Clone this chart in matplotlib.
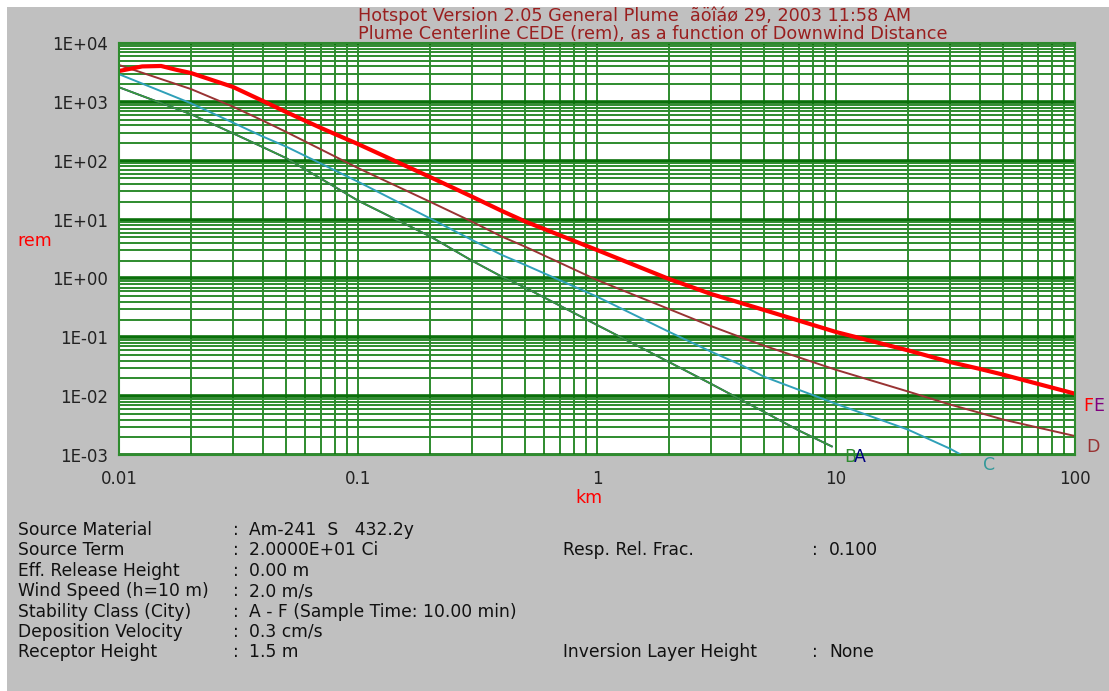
import numpy as np
import matplotlib
matplotlib.use('Agg')
import matplotlib.pyplot as plt
from matplotlib.ticker import LogLocator, FuncFormatter, NullFormatter, FixedLocator
from matplotlib.patches import Rectangle

plt.rcParams['font.family'] = ['DejaVu Sans']

# downwind distance (km) vs plume centerline CEDE (rem), per stability class
dist_F = [0.01, 0.0125, 0.015, 0.0175, 0.02, 0.03, 0.04, 0.05, 0.07, 0.1, 0.2, 0.3, 0.4, 0.5,
          1, 2, 3, 4, 5, 10, 20, 30, 40, 50, 100]
rem_F = [3340, 4000, 4070, 3480, 3090, 1790, 1035, 673, 360, 192, 52.9, 24.5, 14.0, 9.3,
         3.04, 0.98, 0.544, 0.383, 0.291, 0.123, 0.060, 0.038, 0.029, 0.0232, 0.0110]
# E lies under F in the picture
dist_E = dist_F
rem_E = rem_F

dist_D = [0.01, 0.02, 0.03, 0.04, 0.05, 0.1, 0.2, 0.3, 0.4, 0.5, 1, 2, 3, 4, 5, 10, 20, 30, 40, 50, 100]
rem_D = [4230, 1650, 828, 479, 309, 75, 20.1, 9.2, 5.13, 3.47, 0.94, 0.302, 0.155, 0.100, 0.072,
         0.028, 0.012, 0.0072, 0.0052, 0.0040, 0.0021]

dist_C = [0.01, 0.02, 0.03, 0.04, 0.05, 0.1, 0.2, 0.3, 0.4, 0.5, 1, 2, 3, 4, 5, 10, 20, 30, 33.5]
rem_C = [2950, 946, 443, 257, 174, 44, 10.5, 4.5, 2.5, 1.7, 0.49, 0.124, 0.057, 0.034, 0.0214,
         0.0074, 0.0027, 0.00128, 0.001]

dist_B = [0.01, 0.02, 0.03, 0.04, 0.05, 0.1, 0.2, 0.3, 0.4, 0.5, 1, 2, 3, 4, 5, 7, 9.6]
rem_B = [1770, 617, 292, 170, 111, 21, 5.2, 2.0, 1.07, 0.70, 0.162, 0.038, 0.0162, 0.0087,
         0.0054, 0.0026, 0.0014]
# A lies under B
dist_A = dist_B
rem_A = rem_B

x_ticks = [0.01, 0.1, 1, 10, 100]
x_ticklabels = ['0.01', '0.1', '1', '10', '100']
y_ticks = [1e-3, 1e-2, 1e-1, 1, 1e1, 1e2, 1e3, 1e4]

title1 = 'Hotspot Version 2.05 General Plume  ãöîáø 29, 2003 11:58 AM'
title2 = 'Plume Centerline CEDE (rem), as a function of Downwind Distance'

info_left = [('Source Material', 'Am-241  S   432.2y'),
             ('Source Term', '2.0000E+01 Ci'),
             ('Eff. Release Height', '0.00 m'),
             ('Wind Speed (h=10 m)', '2.0 m/s'),
             ('Stability Class (City)', 'A - F (Sample Time: 10.00 min)'),
             ('Deposition Velocity', '0.3 cm/s'),
             ('Receptor Height', '1.5 m')]
info_right = {1: ('Resp. Rel. Frac.', '0.100'),
              6: ('Inversion Layer Height', 'None')}

W, H = 1109, 691
fig = plt.figure(figsize=(W / 100, H / 100), dpi=100)
fig.patch.set_facecolor('white')
fig.patches.append(Rectangle((7 / W, 0), 1, 1 - 7 / H, transform=fig.transFigure,
                             facecolor='#c0c0c0', edgecolor='none', zorder=-10))

ax = fig.add_axes([119 / W, 1 - 455 / H, 956 / W, 412 / H])
ax.set_facecolor('white')
ax.set_xscale('log')
ax.set_yscale('log')
ax.set_xlim(0.01, 100)
ax.set_ylim(1e-3, 1e4)

ax.xaxis.set_major_locator(FixedLocator(x_ticks))
ax.set_xticklabels(x_ticklabels)
ax.xaxis.set_minor_locator(LogLocator(base=10, subs=range(2, 10), numticks=100))
ax.xaxis.set_minor_formatter(NullFormatter())
ax.yaxis.set_major_locator(FixedLocator(y_ticks))
ax.yaxis.set_minor_locator(LogLocator(base=10, subs=range(2, 10), numticks=100))
ax.yaxis.set_major_formatter(FuncFormatter(lambda v, p: '1E%+03d' % int(round(np.log10(v)))))
ax.yaxis.set_minor_formatter(NullFormatter())

grid_green = '#2e8b2e'
ax.set_axisbelow(True)
ax.grid(which='both', axis='x', color=grid_green, lw=1.4)
ax.grid(which='minor', axis='y', color=grid_green, lw=1.4)
ax.grid(which='major', axis='y', color='#0a700a', lw=2.6)
for s in ax.spines.values():
    s.set_color(grid_green)
    s.set_linewidth(1.5)
ax.tick_params(which='both', length=0, labelsize=12, colors='#222222')
ax.tick_params(axis='y', pad=8)
ax.tick_params(axis='x', pad=11)

ax.plot(dist_A, rem_A, color='#000080', lw=1.3)
ax.plot(dist_B, rem_B, color='#3a9a3a', lw=1.3)
ax.plot(dist_C, rem_C, color='#2fa0b8', lw=1.4)
ax.plot(dist_D, rem_D, color='#993333', lw=1.4)
ax.plot(dist_E, rem_E, color='#800080', lw=1.4)
ax.plot(dist_F, rem_F, color='#ff0000', lw=3.0)

labels = [('F', dist_F, rem_F, '#ff0000', (8, -12)),
          ('E', dist_E, rem_E, '#800080', (18, -12)),
          ('D', dist_D, rem_D, '#993333', (11, -11)),
          ('C', dist_C, rem_C, '#339999', (22, -10)),
          ('B', dist_B, rem_B, '#2e8b2e', (12, -11)),
          ('A', dist_A, rem_A, '#000080', (22, -11))]
for name, xs, ys, col, off in labels:
    ax.annotate(name, xy=(xs[-1], ys[-1]), xytext=off, textcoords='offset pixels',
                color=col, fontsize=12.5, ha='left', va='center', annotation_clip=False)

ax.set_xlabel('km', color='red', fontsize=12.5, va='top')
ax.xaxis.set_label_coords(0.4915, -0.0835)
ax.set_ylabel('rem', color='red', fontsize=12.5, rotation=0, va='center')
ax.yaxis.set_label_coords(-0.088, 0.52)

title_col = '#991f1f'
fig.text(358 / W, 1 - 21 / H, title1, color=title_col, fontsize=12.7, ha='left', va='baseline')
fig.text(358 / W, 1 - 39 / H, title2, color=title_col, fontsize=12.7, ha='left', va='baseline')

for i, (lab, val) in enumerate(info_left):
    y = 1 - (530 + i * 20.4) / H
    fig.text(18 / W, y, lab, fontsize=12.3, color='#111111', va='center')
    fig.text(233 / W, y, ':', fontsize=12.3, color='#111111', va='center')
    fig.text(249 / W, y, val, fontsize=12.3, color='#111111', va='center')
for i, (lab, val) in info_right.items():
    y = 1 - (530 + i * 20.4) / H
    fig.text(563 / W, y, lab, fontsize=12.3, color='#111111', va='center')
    fig.text(812 / W, y, ':', fontsize=12.3, color='#111111', va='center')
    fig.text(829 / W, y, val, fontsize=12.3, color='#111111', va='center')

fig.savefig('out.png', dpi=100, facecolor=fig.get_facecolor())
